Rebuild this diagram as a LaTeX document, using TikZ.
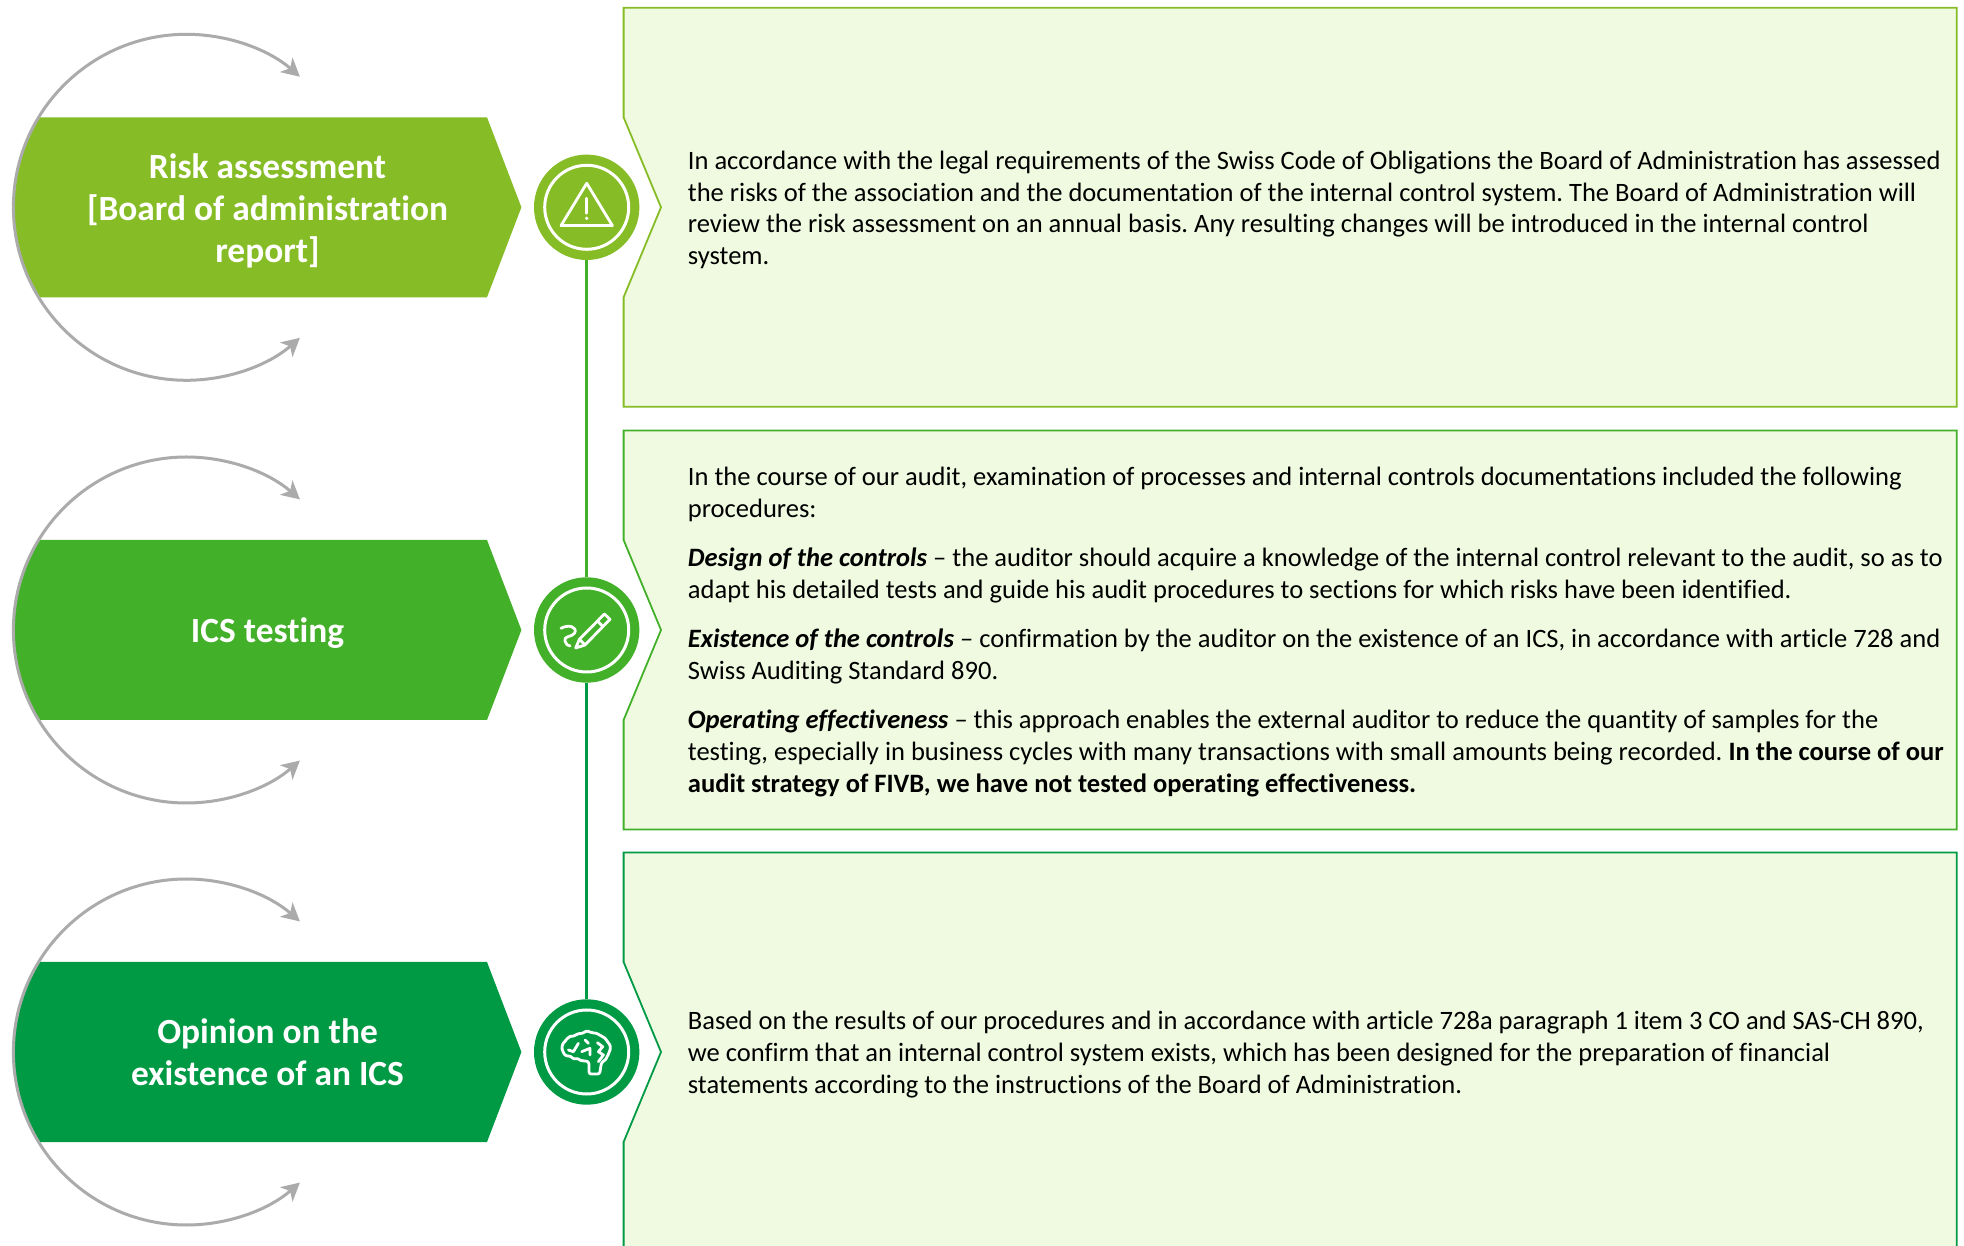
\documentclass[tikz,border=0pt]{standalone}
\usepackage{fontspec}
\setmainfont{Carlito}[Ligatures=NoCommon]
\usetikzlibrary{arrows.meta}
\definecolor{gone}{HTML}{86BC25}
\definecolor{gtwo}{HTML}{43B02A}
\definecolor{gthree}{HTML}{009A44}
\definecolor{boxfill}{HTML}{EFFAE1}
\definecolor{loopgray}{HTML}{ABABAB}
\tikzset{
  x=1pt,y=1pt,
  pentagon/.style={fill=#1,draw=none},
  loopline/.style={draw=loopgray,line width=3pt,-{Stealth[length=18pt,width=19pt,inset=5pt]}},
  textbox/.style={fill=boxfill,draw=#1,line width=1.8pt,line join=miter},
  iconcircle/.style={circle,fill=#1,minimum size=105.4pt,inner sep=0pt,draw=none},
  ring/.style={draw=white,line width=3pt},
  iconline/.style={draw=white,line width=2.8pt,line cap=round,line join=round},
  spine/.style={line width=3.4pt},
  titletext/.style={text=white,align=center,inner sep=0pt,font=\fontsize{35.4}{42}\selectfont\bfseries},
  bodytext/.style={text=black,align=left,inner sep=0pt,anchor=west,font=\frenchspacing\fontsize{26.53}{31.7}\selectfont},
}
\newcommand{\rowblock}[5]{% name, y centre, colour, title, title y offset
  \begin{scope}[shift={(0,#2)}]
    \fill[pentagon=#3] (38,90) -- (487,90) -- (521.4,0) -- (487,-90) -- (38,-90)
       arc[start angle=211.3,end angle=148.7,radius=173] -- cycle;
    \coordinate (loopa#1) at (13.4,0);
    \draw[loopline] (loopa#1) arc[start angle=180,end angle=49,radius=173];
    \draw[loopline] (loopa#1) arc[start angle=180,end angle=311,radius=173];
    \node[titletext] (title#1) at (267.5,#5) {#4};
    \draw[textbox=#3] (623.6,199.5) -- (1956.7,199.5) -- (1956.7,-199.5) -- (623.6,-199.5)
       -- (623.6,-90) -- (661,0) -- (623.6,90) -- cycle;
    \node[iconcircle=#3] (icon#1) at (586.7,0) {};
    \draw[ring] (586.7,0) circle[radius=42];
  \end{scope}
}
\begin{document}
\begin{tikzpicture}
\useasboundingbox (0,0) rectangle (1964,1245);
\rowblock{a}{1037.7}{gone}{Risk assessment\\{[}Board of administration\\report]}{-3.3}
\rowblock{b}{615}{gtwo}{ICS testing}{-3.5}
\rowblock{c}{193}{gthree}{Opinion on the\\existence of an ICS}{-0.3}
\draw[gtwo,spine] (icona) -- (iconb);
\draw[gthree,spine] (iconb) -- (iconc);
% warning icon
\begin{scope}[shift={(icona.center)}]
  \draw[iconline] (0,24) -- (25.7,-18.3) -- (-25.7,-18.3) -- cycle;
  \draw[iconline] (0,9) -- (0,-6);
  \fill[white] (0,-11) circle[radius=1.8];
\end{scope}
% pencil icon
\begin{scope}[shift={(iconb.center)}]
  \draw[iconline] (-11,-18) -- (-7.3,-9.3) -- (17.7,16) -- (23.3,10.7) -- (-1.7,-15) -- cycle;
  \draw[iconline] (10.7,9) -- (16,3.7);
  \draw[iconline] (-7.3,-9.3) -- (-1.7,-15);
  \draw[iconline] (-25.7,1.7) .. controls (-18,6) and (-9,3) .. (-12,-3)
     .. controls (-14,-7) and (-24,-6) .. (-21.7,-11) .. controls (-21,-14) and (-19,-16) .. (-16.7,-16);
\end{scope}
% brain icon
\begin{scope}[shift={(iconc.center)}]
  \draw[iconline,rounded corners=2.2pt] (2.3,-22) -- (2.3,-10) -- (-2,-8.5) -- (-6,-9) -- (-9,-6)
     -- (-13,-7.5) -- (-16,-4) -- (-21,-4) -- (-24,0) -- (-25,5) -- (-23,10) -- (-20,12) -- (-18,15.5)
     -- (-12,16) -- (-9,18.5) -- (-4,18.5) -- (0,21.5) -- (5,19) -- (10,19) -- (14,16) -- (18,14.5)
     -- (21,10) -- (24,6) -- (23,0) -- (21,-3) -- (19,-8) -- (15,-10) -- (14,-15) -- (13,-22) -- cycle;
  \draw[iconline] (-8.3,8.7) -- (-13.3,0.3) -- (-18.3,2);
  \draw[iconline] (-1.7,12) -- (1.7,8.7);
  \draw[iconline] (-5,0.3) -- (3.3,3.7) -- (3.3,-3);
  \draw[iconline] (10.7,9.3) -- (16,5.3) -- (11.7,0.3) -- (16.7,-3) -- (11.7,-9.7);
\end{scope}
\node[bodytext] (texta) at (687.7,1035) {In accordance with the legal requirements of the Swiss Code of Obligations the Board of Administration has assessed\\the risks of the association and the documentation of the internal control system. The Board of Administration will\\review the risk assessment on an annual basis. Any resulting changes will be introduced in the internal control\\system.};
\node[bodytext] (textb) at (687.7,613) {In the course of our audit, examination of processes and internal controls documentations included the following\\procedures:\\[17.6pt]
\textbf{\textit{Design of the controls}} – the auditor should acquire a knowledge of the internal control relevant to the audit, so as to\\adapt his detailed tests and guide his audit procedures to sections for which risks have been identified.\\[17.6pt]
\textbf{\textit{Existence of the controls}} – confirmation by the auditor on the existence of an ICS, in accordance with article 728 and\\Swiss Auditing Standard 890.\\[17.6pt]
\textbf{\textit{Operating effectiveness}} – this approach enables the external auditor to reduce the quantity of samples for the\\testing, especially in business cycles with many transactions with small amounts being recorded. \textbf{In the course of our}\\\textbf{audit strategy of FIVB, we have not tested operating effectiveness.}};
\node[bodytext] (textc) at (687.7,190.5) {Based on the results of our procedures and in accordance with article 728a paragraph 1 item 3 CO and SAS-CH 890,\\we confirm that an internal control system exists, which has been designed for the preparation of financial\\statements according to the instructions of the Board of Administration.};
\end{tikzpicture}
\end{document}
